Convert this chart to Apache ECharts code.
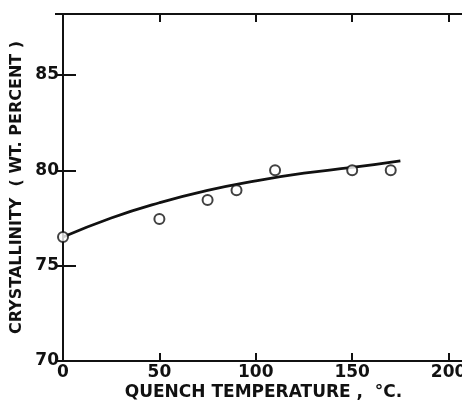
<!DOCTYPE html>
<html>
<head>
<meta charset="utf-8">
<script src="https://cdn.jsdelivr.net/npm/echarts@6/dist/echarts.min.js"></script>
<style>
  html, body { margin: 0; padding: 0; background: #fff; }
  #chart { width: 462px; height: 403px; }
</style>
</head>
<body>
<div id="chart"></div>
<script>
// measured points (quench temp, crystallinity)
const quenchTemp = [0, 50, 75, 90, 110, 150, 170]
const crystallinity = [76.5, 77.45, 78.45, 78.95, 80.0, 80.0, 80.0]
// fitted curve
const curveTemp = [0, 25, 50, 75, 100, 125, 150, 175]
const curveValue = [76.5, 77.5, 78.3, 78.95, 79.45, 79.85, 80.15, 80.5]
const xTicks = [0, 50, 100, 150, 200]
const yTicks = [70, 75, 80, 85]

const chart = echarts.init(document.getElementById('chart'))
const font = 'DejaVu Sans, Liberation Sans, sans-serif'
const black = '#111'

const option = {
  animation: false,
  backgroundColor: '#fff',
  grid: { left: 63, top: 14, right: -2, bottom: 42, outerBoundsMode: 'none', containLabel: false },
  xAxis: [{
    type: 'value',
    min: 0,
    max: 208,
    interval: 50,
    name: 'QUENCH TEMPERATURE ,  \u00b0C.',
    nameLocation: 'middle',
    nameGap: 23,
    nameMoveOverlap: false,
    nameTextStyle: { color: black, fontFamily: font, fontWeight: 'bold', fontSize: 17 },
    axisLine: { lineStyle: { color: black, width: 2 } },
    axisTick: { inside: true, length: 8, lineStyle: { color: black, width: 2 } },
    axisLabel: {
      color: black, fontFamily: font, fontWeight: 'bold', fontSize: 17, margin: 3,
      showMaxLabel: false,
      formatter: v => xTicks.indexOf(v) >= 0 ? String(v) : ''
    },
    splitLine: { show: false }
  }, {
    type: 'value',
    position: 'top',
    min: 0,
    max: 208,
    interval: 50,
    axisLine: { lineStyle: { color: black, width: 2 } },
    axisTick: { inside: true, length: 8, lineStyle: { color: black, width: 2 } },
    axisLabel: { show: false },
    splitLine: { show: false }
  }],
  yAxis: [{
    type: 'value',
    min: 70,
    max: 88.2,
    interval: 5,
    name: 'CRYSTALLINITY  ( WT. PERCENT )',
    nameLocation: 'middle',
    nameGap: 38,
    nameMoveOverlap: false,
    nameTextStyle: { color: black, fontFamily: font, fontWeight: 'bold', fontSize: 16 },
    axisLine: { show: true, lineStyle: { color: black, width: 2 } },
    axisTick: { show: true, inside: true, length: 13, lineStyle: { color: black, width: 2 } },
    axisLabel: {
      color: black, fontFamily: font, fontWeight: 'bold', fontSize: 17, margin: 4,
      showMaxLabel: false,
      formatter: v => yTicks.indexOf(v) >= 0 ? String(v) : ''
    },
    splitLine: { show: false }
  }, {
    type: 'value',
    position: 'right',
    min: 70,
    max: 88.2,
    interval: 5,
    axisLine: { show: true, lineStyle: { color: black, width: 2 } },
    axisTick: { show: true, inside: true, length: 8, lineStyle: { color: black, width: 2 } },
    axisLabel: { show: false },
    splitLine: { show: false }
  }],
  series: [{
    type: 'line',
    smooth: true,
    symbol: 'none',
    data: curveTemp.map((t, i) => [t, curveValue[i]]),
    lineStyle: { color: black, width: 2.8 },
    z: 2
  }, {
    type: 'scatter',
    symbol: 'circle',
    symbolSize: 10,
    data: quenchTemp.map((t, i) => [t, crystallinity[i]]),
    itemStyle: { color: '#fff', borderColor: black, borderWidth: 2 },
    z: 3
  }]
}
chart.setOption(option)
</script>
</body>
</html>
